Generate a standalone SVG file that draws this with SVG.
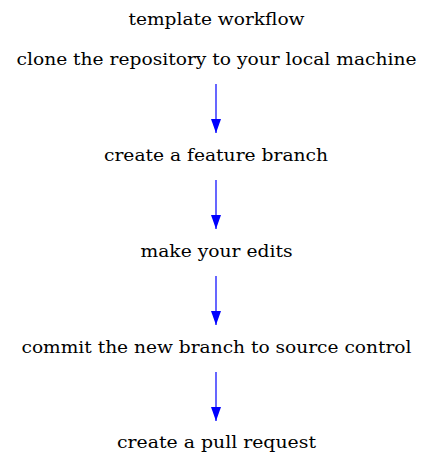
<svg xmlns="http://www.w3.org/2000/svg" width="433" height="473" viewBox="0 0 433 473">
<style>
text{font-family:"DejaVu Serif","Liberation Serif",serif;font-size:16.5px;fill:#000;text-anchor:middle}
.e{stroke:#0000ff;stroke-width:1.2;fill:none}
</style>
<defs><marker id="a" viewBox="0 0 14 10" refX="14" refY="5" markerWidth="14" markerHeight="10" markerUnits="userSpaceOnUse" orient="auto"><path d="M0,0L14,5L0,10z" fill="#0000ff"/></marker></defs>
<rect width="433" height="473" fill="#fff"/>
<text x="216.5" y="25" textLength="176" lengthAdjust="spacingAndGlyphs">template workflow</text>
<g id="connectors">
<path class="e" d="M216,84V133" marker-end="url(#a)"/>
<path class="e" d="M216,180V229" marker-end="url(#a)"/>
<path class="e" d="M216,276V325" marker-end="url(#a)"/>
<path class="e" d="M216,372V421" marker-end="url(#a)"/>
</g>
<g id="clone"><text x="216.5" y="65" textLength="400" lengthAdjust="spacingAndGlyphs">clone the repository to your local machine</text></g>
<g id="feature"><text x="216" y="161" textLength="224" lengthAdjust="spacingAndGlyphs">create a feature branch</text></g>
<g id="edits"><text x="216.5" y="257" textLength="152" lengthAdjust="spacingAndGlyphs">make your edits</text></g>
<g id="commit"><text x="216.5" y="353" textLength="390" lengthAdjust="spacingAndGlyphs">commit the new branch to source control</text></g>
<g id="pull"><text x="216.5" y="448" textLength="199" lengthAdjust="spacingAndGlyphs">create a pull request</text></g>
</svg>
